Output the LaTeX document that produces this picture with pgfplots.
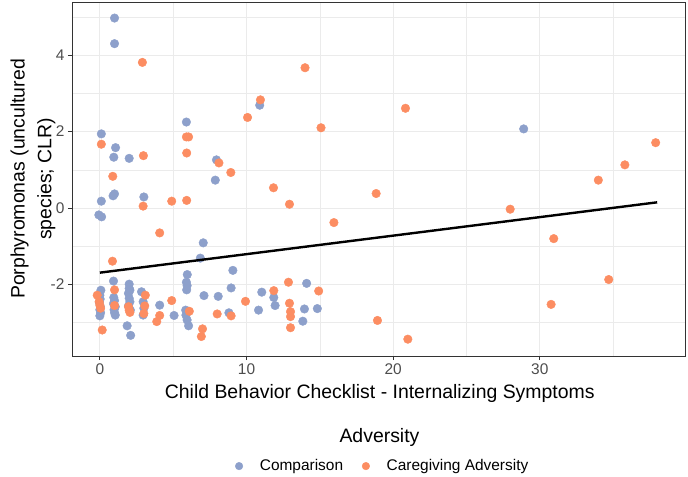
\documentclass[border=0pt]{standalone}
\usepackage{fontspec}
\setmainfont{Liberation Sans}
\usepackage{pgfplots}
\pgfplotsset{compat=1.18}
\definecolor{cmp}{HTML}{8DA0CB}
\definecolor{cga}{HTML}{FC8D62}
\definecolor{gridc}{HTML}{EBEBEB}
\definecolor{axc}{HTML}{333333}
\definecolor{tickc}{HTML}{4D4D4D}
\begin{document}
\begin{tikzpicture}
\path[use as bounding box] (0,0) rectangle (688bp,477bp);
\begin{axis}[
  at={(72bp,121bp)}, anchor=south west,
  scale only axis, width=613bp, height=354bp,
  xmin=-1.9, xmax=39.9, ymin=-3.87, ymax=5.39,
  xtick={0,10,20,30}, minor xtick={5,15,25,35},
  ytick={-2,0,2,4}, minor ytick={-3,-1,1,3,5},
  grid=both,
  major grid style={gridc, line width=1bp},
  minor grid style={gridc, line width=0.6bp},
  axis line style={axc, line width=0.8bp},
  tick align=outside, tick pos=left,
  major tick length=4bp, minor tick length=0pt,
  every tick/.append style={axc, line width=0.8bp},
  tick label style={font=\fontsize{15.5}{18}\selectfont, text=tickc},
  /pgf/number format/assume math mode=true,
  xlabel={Child Behavior Checklist - Internalizing Symptoms},
  xlabel style={font=\fontsize{19.5}{23}\selectfont, at={(axis description cs:0.502,-0.105)}, anchor=center},
  ylabel={Porphyromonas (uncultured\\species; CLR)},
  ylabel style={font=\fontsize{19.5}{27}\selectfont, align=center, at={(axis description cs:-0.0636,0.5)}, anchor=center},
  legend style={at={(axis description cs:0.507,-0.311)}, anchor=center, draw=none, fill=none,
    font=\fontsize{15.5}{18}\selectfont,
    /tikz/every odd column/.append style={column sep=15bp},
    /tikz/every even column/.append style={column sep=17bp}},
  legend image post style={mark size=3.8bp},
  legend columns=2,
  legend cell align=left,
  clip mode=individual,
]
% Comparison
\addplot[only marks, mark=*, mark size=4.3bp, color=cmp, mark options={draw=none, fill=cmp}] coordinates {
(1,4.97) (1,4.30) (0.1,1.94) (1.07,1.58) (0.95,1.33) (2.0,1.30)
(0.9,0.32) (1.0,0.37) (0.1,0.18) (3.0,0.29) (-0.07,-0.18) (0.12,-0.23)
(5.9,2.25) (7.95,1.26) (7.87,0.73) (10.9,2.69) (28.9,2.07)
(7.05,-0.91) (6.85,-1.31) (9.07,-1.63) (5.96,-1.74)
(5.9,-1.94) (5.95,-2.03) (5.92,-2.14) (0.93,-1.91) (8.95,-2.09)
(2.0,-1.99) (2.0,-2.10) (0.07,-2.15) (2.84,-2.19) (7.1,-2.29) (8.07,-2.31)
(11.04,-2.20) (4.08,-2.54) (10.82,-2.67) (5.06,-2.81)
(2.95,-2.45) (3.0,-2.62) (2.95,-2.80)
(5.85,-2.67) (5.87,-2.80) (5.95,-2.93) (6.05,-3.08)
(8.8,-2.74) (1.86,-3.08) (2.1,-3.33)
(11.86,-2.34) (11.95,-2.55) (14.1,-1.97) (13.95,-2.64) (14.83,-2.63) (13.84,-2.96)
(0.0,-2.28) (0.02,-2.38) (-0.03,-2.47) (0.03,-2.58) (0.0,-2.66) (0.05,-2.74) (0.0,-2.82)
(0.95,-2.34) (1.0,-2.42) (0.93,-2.50) (1.05,-2.58) (0.97,-2.66) (1.0,-2.74) (1.05,-2.80)
(2.05,-2.15) (1.95,-2.23) (2.0,-2.36) (2.05,-2.45) (1.95,-2.56) (2.08,-2.67)
};
\addlegendentry{Comparison}
% Caregiving Adversity
\addplot[only marks, mark=*, mark size=4.3bp, color=cga, mark options={draw=none, fill=cga}] coordinates {
(2.9,3.81) (10.95,2.83) (10.07,2.37) (13.99,3.67) (20.84,2.61) (15.08,2.10)
(0.1,1.67) (5.9,1.86) (6.05,1.86) (2.97,1.37) (5.92,1.44) (8.12,1.18) (8.93,0.93)
(0.88,0.83) (11.84,0.53) (18.84,0.38) (12.93,0.10) (2.95,0.05) (4.9,0.18) (5.92,0.20)
(4.08,-0.65) (15.96,-0.38) (0.86,-1.39) (27.98,-0.03) (37.9,1.71) (35.8,1.13)
(33.99,0.73) (30.95,-0.80) (34.7,-1.87) (30.77,-2.52)
(12.86,-1.94) (11.86,-2.16) (14.92,-2.17) (12.93,-2.49) (13.0,-2.71) (13.0,-2.84) (13.0,-3.13)
(18.93,-2.94) (21.0,-3.43)
(1.0,-2.14) (-0.18,-2.28) (3.1,-2.28) (4.9,-2.42) (9.93,-2.44) (3.06,-2.56)
(4.08,-2.81) (3.88,-2.97) (6.1,-2.70) (8.0,-2.77) (8.95,-2.82) (7.0,-3.16) (6.92,-3.36)
(0.16,-3.19) (-0.05,-2.45) (0.0,-2.54) (0.05,-2.62) (1.0,-2.55)
(1.95,-2.58) (2.0,-2.67) (2.05,-2.73) (3.0,-2.76)
};
\addlegendentry{Caregiving Adversity}
\addplot[black, line width=2.4bp, forget plot] coordinates {(0,-1.69) (38,0.15)};
\node[font=\fontsize{19.5}{23}\selectfont] at (axis description cs:0.5016,-0.229) {Adversity};
\end{axis}
\end{tikzpicture}
\end{document}
